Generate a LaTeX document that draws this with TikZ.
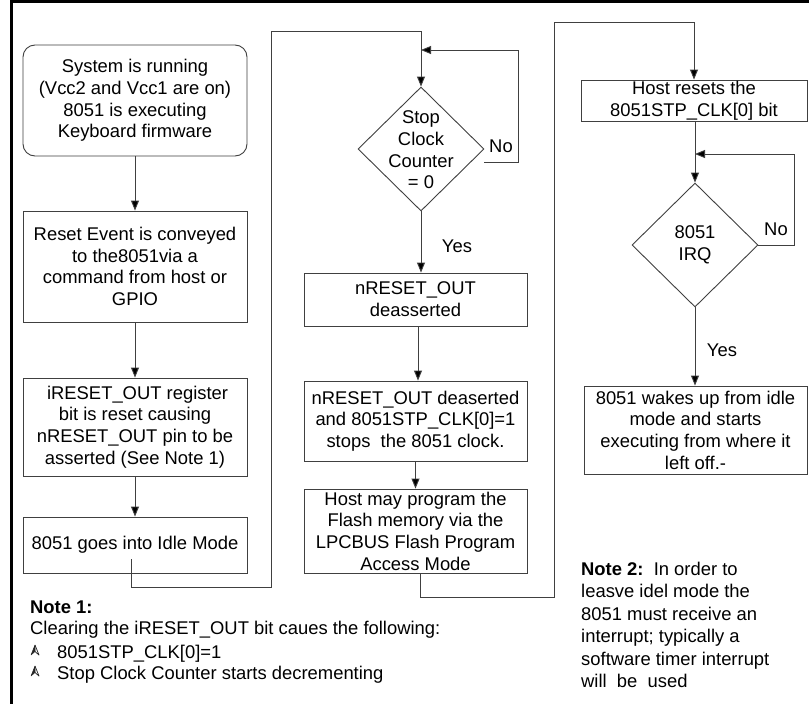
\documentclass[tikz,border=0pt]{standalone}
\usepackage{fontspec}
\setmainfont{Liberation Sans}
\usetikzlibrary{shapes.geometric,arrows.meta}
\begin{document}
\begin{tikzpicture}[x=1pt,y=-1pt,
  every node/.style={font=\fontsize{18.4}{21.7}\selectfont},
  box/.style={draw=black!75, line width=0.9pt, rectangle, inner sep=2pt, align=center},
  dec/.style={draw=black!75, line width=0.9pt, diamond, inner sep=0pt, minimum width=126pt, minimum height=124pt},
  arr/.style={draw=black!75, line width=0.9pt, -{Triangle[width=8pt,length=10pt,fill=black]}},
  ln/.style={draw=black!75, line width=0.9pt},
  lbl/.style={inner sep=0pt},
  bul/.style={fill=black!85, draw=black!85, line width=0.5pt, line join=round}
]
\useasboundingbox (0,0) rectangle (809,704);
\fill[white] (0,0) rectangle (809,704);
\draw[line width=3pt] (11,706) -- (11,1.5) -- (812,1.5);

% left column
\node[box, rounded corners=12pt, minimum width=224pt, minimum height=111pt] (start) at (135,100.5)
  {System is running\\(Vcc2 and Vcc1 are on)\\8051 is executing\\Keyboard firmware};
\node[box, minimum width=224pt, minimum height=111pt] (reset) at (135,266.5)
  {Reset Event is conveyed\\to the8051via a\\command from host or\\GPIO};
\node[box, minimum width=224pt, minimum height=98pt] (ireset) at (135,427)
  {\ iRESET\_OUT register\\bit is reset causing\\nRESET\_OUT pin to be\\asserted (See Note 1)};
\node[box, minimum width=224pt, minimum height=56pt] (idle) at (135,545)
  {8051 goes into Idle Mode};

% middle column
\node[dec] (d1) at (421,149) {};
\node[lbl, align=center] (d1t) at (421,150) {Stop\\Clock\\Counter\\= 0};
\node[box, minimum width=223pt, minimum height=53pt] (deas) at (415.5,299.5)
  {nRESET\_OUT\\deasserted};
\node[box, minimum width=223pt, minimum height=80pt] (stop) at (415.5,421)
  {nRESET\_OUT deaserted\\and 8051STP\_CLK[0]=1\\stops\ \ the 8051 clock.};
\node[box, minimum width=223pt, minimum height=84pt, inner sep=0pt] (host) at (415.5,531)
  {Host may program the\\Flash memory via the\\LPCBUS Flash Program\\Access Mode};

% right column
\node[box, minimum width=226pt, minimum height=41pt, inner sep=0pt] (hres) at (694,100.5)
  {Host resets the\\8051STP\_CLK[0] bit};
\node[dec] (d2) at (695,245) {};
\node[lbl, align=center] (d2t) at (695,245) {8051\\IRQ};
\node[box, minimum width=223pt, minimum height=88pt] (wake) at (695.5,430)
  {8051 wakes up from idle\\mode and starts\\executing from where it\\left off.-};

% labels
\node[lbl] (no1) at (501,146) {No};
\node[lbl] (yes1) at (457,246) {Yes};
\node[lbl] (no2) at (776,229) {No};
\node[lbl] (yes2) at (722,350) {Yes};

% left column arrows
\draw[arr] (start.south) -- (reset.north);
\draw[arr] (reset.south) -- (ireset.north);
\draw[arr] (ireset.south) -- (idle.north);

% idle -> stop clock decision
\coordinate (c1) at ([shift={(-4,14)}]idle.center);
\coordinate (c2) at (271,587);
\coordinate (c3) at (271,31);
\draw[arr] (c1) |- (c2) -- (c3) -| (d1.north);

% decision 1 loop
\coordinate (c4) at (518,50);
\draw[arr] ([shift={(0,13)}]d1.east) -| (c4) -- (d1.north |- c4);
\draw[arr] (d1.south) -- (d1.south |- deas.north);
\draw[arr] (deas.south -| 418,0) -- (stop.north -| 418,0);
\draw[arr] (stop.south) -- (host.north);

% host -> host resets
\coordinate (c5) at (554,597);
\coordinate (c6) at (554,22);
\draw[arr] ([xshift=5pt]host.south) |- (c5) -- (c6) -| (hres.north);

% right column
\draw[arr] (hres.south -| d2.north) -- (d2.north);
\coordinate (c7) at (794,154);
\draw[arr] (d2.east) -| (c7) -- (d2.north |- c7);
\draw[arr] (d2.south) -- (d2.south |- wake.north);

% Note 1
\node[lbl, anchor=base west] (n1a) at (30,613.5) {\textbf{Note 1:}};
\node[lbl, anchor=base west] (n1b) at (30,634.5) {Clearing the iRESET\_OUT bit caues the following:};
\node[lbl, anchor=base west] (n1c) at (57,658.5) {8051STP\_CLK[0]=1};
\node[lbl, anchor=base west] (n1d) at (57,679.5) {Stop Clock Counter starts decrementing};
\foreach \yy in {658.5,679.5}{
  \fill[bul] (35,\yy-13.5) -- (31,\yy-3.5) -- (35,\yy-7) -- cycle;
  \draw[black!85, line width=0.7pt, line join=round] (35,\yy-13.5) -- (39,\yy-3.5) -- (35,\yy-7);
}

% Note 2
\node[lbl, anchor=base west] (n2a) at (581,575.5) {\textbf{Note 2:}\ \ In order to};
\node[lbl, anchor=base west] (n2b) at (581,597.9) {leasve idel mode the};
\node[lbl, anchor=base west] (n2c) at (581,620.3) {8051 must receive an};
\node[lbl, anchor=base west] (n2d) at (581,642.7) {interrupt; typically a};
\node[lbl, anchor=base west] (n2e) at (581,665.1) {software timer interrupt};
\node[lbl, anchor=base west] (n2f) at (581,687.5) {will\ \ be\ \ used};
\end{tikzpicture}
\end{document}
